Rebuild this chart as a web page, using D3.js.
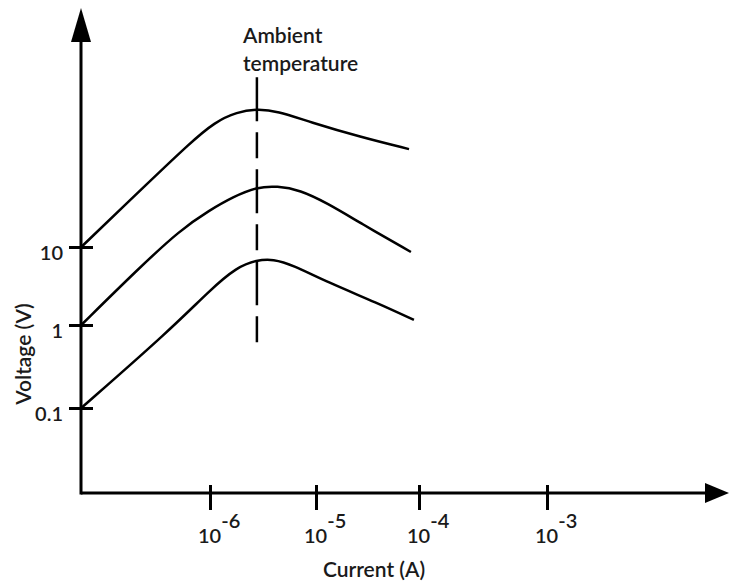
<!DOCTYPE html>
<html>
<head>
<meta charset="utf-8">
<script src="https://cdn.jsdelivr.net/npm/d3@7"></script>
<style>
  body { margin: 0; background: #fff; }
  text { font-family: Lato, "Open Sans", sans-serif; fill: #1a1a1a; font-weight: 600; }
</style>
</head>
<body>
<div id="chart"></div>
<script>
// values (current in A, voltage in V)
const currentTicks = [1e-6, 1e-5, 1e-4, 1e-3];
const currentTickExp = ["-6", "-5", "-4", "-3"];
const voltageTicks = [0.1, 1, 10];
const voltageTickLabels = ["0.1", "1", "10"];

const topCurrent = [6.1e-8, 2.72e-7, 6.48e-7, 1.11e-6, 1.8e-6, 2.77e-6, 4.29e-6, 8.77e-6, 2.7e-5, 8e-5];
const topVoltage = [10, 70.2, 215, 400, 538, 588, 554, 400, 257, 180];

const midCurrent = [6.1e-8, 2.05e-7, 5.21e-7, 1e-6, 1.65e-6, 2.77e-6, 4.29e-6, 7.06e-6, 1.28e-5, 2.7e-5, 8.35e-5];
const midVoltage = [1, 5.07, 16.5, 29.8, 43.8, 58.8, 60.5, 53.8, 36.6, 20.3, 8.63];

const lowCurrent = [6.1e-8, 4.2e-7, 1e-6, 1.8e-6, 2.77e-6, 3.93e-6, 6.06e-6, 1.28e-5, 3.96e-5, 8.93e-5];
const lowVoltage = [0.1, 0.87, 2.81, 5.54, 6.81, 7.02, 5.88, 3.56, 1.91, 1.16];

const ambientCurrent = 2.77e-6;
const ambientVoltage = [1500, 0.53];

const width = 729, height = 583;
const x0 = 81, y0 = 493; // axis origin

const svg = d3.select("#chart").append("svg")
    .attr("width", width)
    .attr("height", height);

// hand drawn axes: decades are not evenly spaced, so piecewise log scales
const x = d3.scaleLog()
    .domain(currentTicks)
    .range([210, 316, 419, 547]);

const y = d3.scaleLog()
    .domain(voltageTicks)
    .range([408, 325, 247]);

// axis lines with arrows
svg.append("line")
    .attr("x1", x0).attr("y1", y0)
    .attr("x2", 706).attr("y2", y0)
    .attr("stroke", "#000").attr("stroke-width", 3);
svg.append("path")
    .attr("d", "M705,483 L729,493 L705,503 Z")
    .attr("fill", "#000");

svg.append("line")
    .attr("x1", x0).attr("y1", y0 + 1.5)
    .attr("x2", x0).attr("y2", 40)
    .attr("stroke", "#000").attr("stroke-width", 3);
svg.append("path")
    .attr("d", "M71,42 L81,8 L91,42 Z")
    .attr("fill", "#000");

// x ticks (cross the axis)
const xAxis = svg.append("g")
    .attr("transform", "translate(0," + (y0 - 8) + ")")
    .call(d3.axisBottom(x).tickValues(currentTicks).tickSize(25).tickFormat(""));
xAxis.select(".domain").remove();
xAxis.selectAll(".tick line").attr("stroke", "#000").attr("stroke-width", 3);

const xLab = svg.append("g").selectAll("text")
    .data(currentTicks)
    .enter()
    .append("text")
    .attr("x", d => x(d) - 12)
    .attr("y", 543)
    .style("font-size", "20px");
xLab.append("tspan").text("10");
xLab.append("tspan")
    .attr("dy", -15)
    .text((d, i) => currentTickExp[i]);

// y ticks
const yAxis = svg.append("g")
    .attr("transform", "translate(" + (x0 + 12) + ",0)")
    .call(d3.axisLeft(y).tickValues(voltageTicks).tickSize(24)
        .tickFormat((d, i) => voltageTickLabels[i]).tickPadding(6));
yAxis.select(".domain").remove();
yAxis.selectAll(".tick line").attr("stroke", "#000").attr("stroke-width", 3);
yAxis.selectAll(".tick text")
    .attr("dy", "0.6em")
    .attr("fill", "#1a1a1a")
    .style("font-family", "Lato, 'Open Sans', sans-serif")
    .style("font-size", "20px");

// curves
const line = d3.line()
    .x(d => x(d[0]))
    .y(d => y(d[1]))
    .curve(d3.curveBasis);

const curves = [
    d3.zip(topCurrent, topVoltage),
    d3.zip(midCurrent, midVoltage),
    d3.zip(lowCurrent, lowVoltage)
];

svg.append("g").selectAll("path")
    .data(curves)
    .enter()
    .append("path")
    .attr("d", line)
    .attr("fill", "none")
    .attr("stroke", "#000")
    .attr("stroke-width", 2.5);

// ambient temperature marker
svg.append("line")
    .attr("x1", x(ambientCurrent)).attr("y1", y(ambientVoltage[0]))
    .attr("x2", x(ambientCurrent)).attr("y2", y(ambientVoltage[1]))
    .attr("stroke", "#000")
    .attr("stroke-width", 2.5)
    .attr("stroke-dasharray", "44,11,26,11");

svg.append("text")
    .attr("x", 243).attr("y", 43)
    .style("font-size", "21px")
    .text("Ambient");
svg.append("text")
    .attr("x", 243).attr("y", 71)
    .style("font-size", "21px")
    .text("temperature");

// axis titles
svg.append("text")
    .attr("x", 374).attr("y", 577)
    .style("text-anchor", "middle")
    .style("font-size", "21px")
    .text("Current (A)");

svg.append("text")
    .attr("transform", "translate(31,354) rotate(-90)")
    .style("text-anchor", "middle")
    .style("font-size", "21px")
    .text("Voltage (V)");
</script>
</body>
</html>
